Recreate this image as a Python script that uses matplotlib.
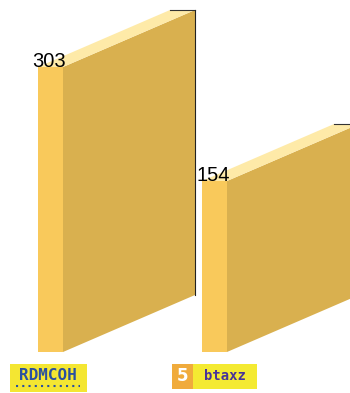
import matplotlib.pyplot as plt
from matplotlib.patches import Polygon, Rectangle

# bar data
categories = ['RDMCOH', 'btaxz']
values = [303, 154]

FRONT = '#f9c95b'
SIDE = '#d9b04f'
TOP = '#feeaa8'

W, H = 350, 393
px_per_unit = 114 / 149.0
y_min = -69.5          # bars start here
base_px = 352          # pixel row of y_min

fig = plt.figure(figsize=(W / 100, H / 100), dpi=100)
ax = fig.add_axes([0, 0, 1, 1])
ax.set_xlim(0, W)
ax.set_ylim(y_min - (H - base_px) / px_per_unit, y_min + base_px / px_per_unit)
ax.axis('off')

bar_w = 25
depth_x = 132
depth_y = 57 / px_per_unit
step = 164
x0 = 38

for i, (cat, v) in enumerate(zip(categories, values)):
    x = x0 + i * step
    # side face
    ax.add_patch(Polygon([(x + bar_w, y_min), (x + bar_w + depth_x, y_min + depth_y),
                          (x + bar_w + depth_x, v + depth_y), (x + bar_w, v)],
                         closed=True, facecolor=SIDE, edgecolor='none'))
    # top face
    ax.add_patch(Polygon([(x, v), (x + bar_w, v),
                          (x + bar_w + depth_x, v + depth_y), (x + depth_x, v + depth_y)],
                         closed=True, facecolor=TOP, edgecolor='none'))
    # front face
    ax.add_patch(Rectangle((x, y_min), bar_w, v - y_min, facecolor=FRONT, edgecolor='none'))
    # back edges
    ax.plot([x + depth_x, x + bar_w + depth_x], [v + depth_y] * 2, color='#333333', lw=0.8)
    ax.plot([x + bar_w + depth_x] * 2, [v + depth_y, y_min + depth_y], color='#222222', lw=0.8)
    # value label
    ax.text(x - 5.5, v, str(v), fontsize=14.5, family='Liberation Sans',
            ha='left', va='baseline', color='black')

# category "image" labels, drawn in pixel coordinates
lab = fig.add_axes([0, 0, 1, 1])
lab.set_xlim(0, W)
lab.set_ylim(H, 0)
lab.axis('off')
lab.add_patch(Rectangle((10, 364), 77, 28, facecolor='#f4e632', edgecolor='none'))
lab.text(48, 376, categories[0], fontsize=11.5, fontweight='bold', family='DejaVu Sans Mono',
         color='#2a50a0', ha='center', va='center')
lab.plot([16, 80], [386, 386], color='#2a50a0', lw=1.5, ls=(0, (1, 2)))
lab.add_patch(Rectangle((172, 364), 21, 25, facecolor='#f0ab3c', edgecolor='none'))
lab.text(182, 376, '5', fontsize=12, fontweight='bold', color='white',
         ha='center', va='center')
lab.add_patch(Rectangle((193, 364), 64, 25, facecolor='#f4ea32', edgecolor='none'))
lab.text(225, 376, categories[1], fontsize=10, fontweight='bold', family='DejaVu Sans Mono',
         color='#47339a', ha='center', va='center')

fig.savefig('out.png', dpi=100)
